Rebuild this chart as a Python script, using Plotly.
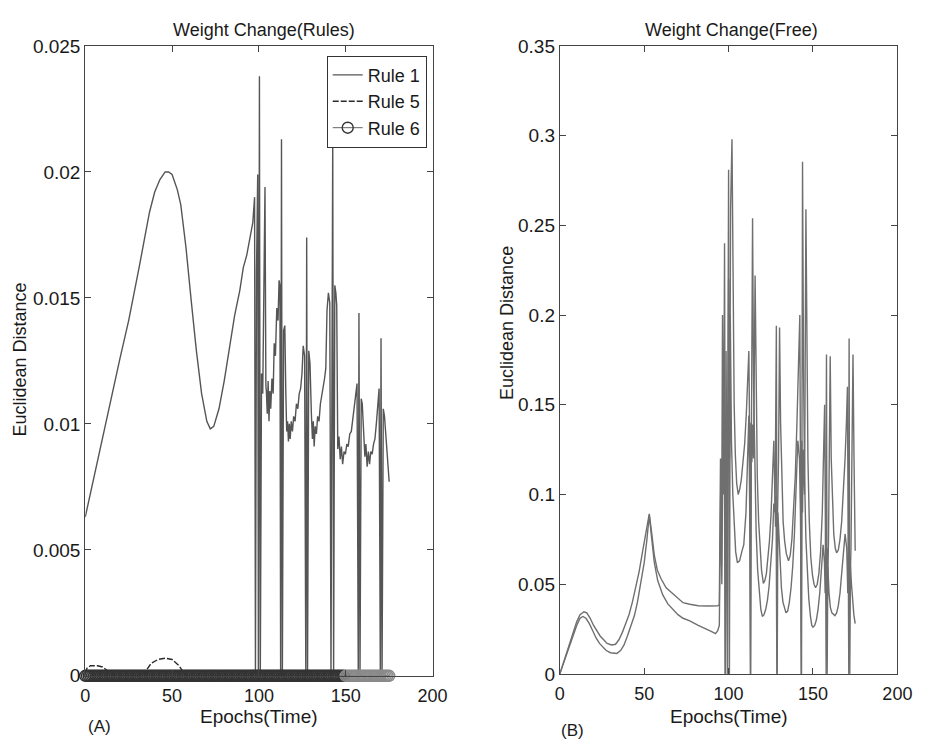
import plotly.graph_objects as go

# ---------------- Panel A: Weight Change (Rules) ----------------
rule1_points = [
    (0, 0.0063), (5, 0.0079), (10, 0.0095), (15, 0.0111), (20, 0.0126), (25, 0.0141),
    (28, 0.0151), (31, 0.0162), (34, 0.0173), (37, 0.0184), (40, 0.0192), (43, 0.0197),
    (46, 0.0200), (48, 0.0200), (50, 0.0199), (53, 0.0193), (55, 0.0187),
    (58, 0.0170), (61, 0.0149), (64, 0.0129), (67, 0.0112), (70, 0.0101), (72, 0.0098),
    (74, 0.0099), (77, 0.0106), (80, 0.0117), (83, 0.0130), (86, 0.0143), (89, 0.0153),
    (91, 0.0162), (93, 0.0167), (95, 0.0174), (96.5, 0.0180), (97.5, 0.0190), (98, 0.0),
    (98.6, 0.0160), (99.3, 0.0199), (99.7, 0.0), (100.3, 0.0238), (100.8, 0.0),
    (101.5, 0.0120), (102.2, 0.0112), (103.5, 0.0194), (104, 0.0115), (104.3, 0.0113),
    (104.8, 0.0104), (105.3, 0.0117), (105.8, 0.0101), (106.3, 0.0113), (106.8, 0.0106),
    (107.5, 0.0118), (108.2, 0.0112), (108.8, 0.0132), (109.5, 0.0127), (110.3, 0.0146),
    (111, 0.0141), (111.6, 0.0157), (112.1, 0.0155), (112.5, 0.0), (113, 0.0213),
    (113.5, 0.0), (114.2, 0.0137), (114.9, 0.0139), (115.5, 0.0112), (116, 0.0097),
    (116.5, 0.0101), (117, 0.0093), (117.5, 0.0100), (118, 0.0094), (118.6, 0.0101),
    (119.3, 0.0097), (120, 0.0103), (120.8, 0.0101), (121.6, 0.0108), (122.4, 0.0106),
    (123.2, 0.0112), (124, 0.0114), (124.8, 0.0120), (125.5, 0.0131), (126.3, 0.0127),
    (127, 0.0), (127.5, 0.0174), (128, 0.0), (128.7, 0.0129), (129.4, 0.0124),
    (130.2, 0.0104), (130.8, 0.0094), (131.3, 0.0101), (131.8, 0.0091), (132.4, 0.0099),
    (133.1, 0.0096), (133.8, 0.0103), (134.6, 0.0101), (135.4, 0.0108), (136.2, 0.0111),
    (137, 0.0114), (137.8, 0.0118), (138.5, 0.0122), (139.2, 0.0145), (140, 0.0152),
    (140.8, 0.0148), (141.5, 0.0), (142.5, 0.0215), (143, 0.0), (143.7, 0.0155),
    (144.3, 0.0152), (144.8, 0.0147), (145.4, 0.0090), (146.1, 0.0095), (146.8, 0.0086),
    (147.5, 0.0091), (148.2, 0.0084), (149, 0.0089), (149.8, 0.0088), (150.6, 0.0092),
    (151.4, 0.0091), (152.3, 0.0096), (153.2, 0.0097), (154, 0.0102), (154.8, 0.0108),
    (155.6, 0.0113), (156.5, 0.0116), (157.2, 0.0), (157.6, 0.0144), (158.2, 0.0),
    (158.9, 0.0110), (159.5, 0.0108), (160.3, 0.0095), (161, 0.0087), (161.6, 0.0092),
    (162.3, 0.0083), (163, 0.0089), (163.7, 0.0084), (164.4, 0.0089), (165.2, 0.0088),
    (166, 0.0092), (166.8, 0.0094), (167.6, 0.0100), (168.4, 0.0108), (169.2, 0.0114),
    (169.9, 0.0), (170.3, 0.0134), (170.9, 0.0), (171.6, 0.0106), (172.3, 0.0103),
    (173, 0.0096), (173.7, 0.0088), (174.4, 0.0080), (175, 0.0077),
]

rule5_points = [
    (0, 0.0001), (1, 0.0003), (3, 0.0004), (7, 0.0004), (10, 0.00035), (13, 0.0002),
    (16, 0.00005), (18, 0.0), (32, 0.0), (35, 0.0002), (38, 0.0005), (42, 0.00065),
    (46, 0.0007), (50, 0.00065), (54, 0.0004), (57, 0.0001), (59, 0.0), (175, 0.0),
]

rule6_epochs = list(range(176))
rule6_values = [0.0] * 176

# ---------------- Panel B: Weight Change (Free) ----------------
free_upper_points = [
    (0, 0.0), (2, 0.006), (4, 0.012), (6, 0.018), (8, 0.024), (10, 0.029), (12, 0.033),
    (14.3, 0.0346), (16, 0.034), (18, 0.031), (20, 0.027), (22, 0.024), (24, 0.021),
    (26, 0.019), (28, 0.017), (30.7, 0.0161), (33, 0.0165), (35, 0.019), (37, 0.023),
    (39, 0.028), (41, 0.033), (43, 0.040), (45, 0.048), (47, 0.057), (49, 0.068),
    (51, 0.079), (53, 0.0892), (54.5, 0.078), (56, 0.066), (57.8, 0.0578), (60, 0.053),
    (63, 0.048), (67, 0.0445), (70, 0.042), (73, 0.0397), (77, 0.0388), (82, 0.038),
    (88, 0.0378), (93.5, 0.0379), (94.5, 0.0385), (95.2, 0.12), (95.8, 0.06), (96.4, 0.20),
    (97, 0.10), (97.6, 0.24), (98.2, 0.0), (98.8, 0.15), (99.4, 0.0), (100, 0.22),
    (100.6, 0.12), (101.2, 0.26), (102, 0.298), (102.6, 0.20), (103.3, 0.15), (104, 0.122),
    (104.8, 0.106), (105.7, 0.100), (106.6, 0.103), (107.5, 0.108), (108.5, 0.117),
    (109.5, 0.128), (110.5, 0.145), (111.3, 0.165), (112, 0.18), (112.5, 0.13),
    (112.9, 0.0), (113.3, 0.14), (113.8, 0.118), (114.3, 0.139), (114.8, 0.12),
    (115.7, 0.222), (116.3, 0.15), (117, 0.11), (117.8, 0.085), (118.6, 0.07),
    (119.5, 0.058), (120.6, 0.0504), (121.5, 0.052), (122.4, 0.056), (123.3, 0.064),
    (124.2, 0.074), (125.1, 0.088), (126, 0.106), (126.8, 0.13), (127.4, 0.10),
    (127.8, 0.082), (128.0, 0.099), (128.2, 0.081), (128.6, 0.0), (129, 0.09),
    (129.6, 0.12), (130.2, 0.193), (130.8, 0.14), (131.5, 0.105), (132.3, 0.085),
    (133.2, 0.074), (134.2, 0.067), (135.5, 0.063), (136.5, 0.066), (137.5, 0.075),
    (138.5, 0.09), (139.5, 0.11), (140.5, 0.14), (141.5, 0.18), (142.2, 0.20),
    (142.6, 0.11), (143.0, 0.0), (143.4, 0.13), (143.8, 0.09), (144.2, 0.125),
    (145, 0.10), (145.8, 0.259), (146.4, 0.17), (147, 0.12), (147.8, 0.085),
    (148.7, 0.065), (149.7, 0.055), (150.6, 0.05), (151.5, 0.048), (152.5, 0.05),
    (153.5, 0.056), (154.5, 0.068), (155.5, 0.09), (156.3, 0.12), (156.9, 0.15),
    (157.4, 0.075), (157.8, 0.0), (158.3, 0.07), (158.7, 0.05), (159.2, 0.075),
    (160.2, 0.177), (160.8, 0.12), (161.5, 0.095), (162.3, 0.078), (163.2, 0.07),
    (164, 0.0675), (165, 0.069), (166, 0.075), (167, 0.085), (168, 0.10), (169, 0.12),
    (169.8, 0.14), (170.4, 0.16), (170.9, 0.07), (171.2, 0.0), (171.6, 0.065),
    (172, 0.05), (172.5, 0.07), (173.7, 0.178), (174.3, 0.12), (175, 0.0686),
]

free_lower_points = [
    (0, 0.0), (2, 0.0055), (4, 0.011), (6, 0.017), (8, 0.022), (10, 0.027), (12, 0.031),
    (13.7, 0.032), (15.5, 0.031), (17.5, 0.028), (19.5, 0.024), (21.5, 0.020),
    (23.5, 0.017), (25.5, 0.0148), (27.5, 0.013), (30, 0.0118), (33.8, 0.0114),
    (36, 0.013), (38, 0.016), (40, 0.021), (42, 0.026), (44.2, 0.0325), (46, 0.040),
    (48, 0.050), (50, 0.062), (51.5, 0.074), (53, 0.0885), (54.5, 0.075), (56, 0.062),
    (58, 0.052), (61, 0.044), (64, 0.039), (67.4, 0.0355), (70, 0.033), (73, 0.031),
    (77, 0.0295), (82, 0.027), (86.8, 0.0251), (90, 0.0235), (92.2, 0.0224),
    (93.5, 0.0239), (94.5, 0.027), (95.3, 0.10), (96, 0.05), (96.7, 0.14), (97.4, 0.171),
    (97.9, 0.0), (98.5, 0.18), (99.2, 0.06), (100, 0.281), (100.5, 0.0), (101, 0.20),
    (101.7, 0.13), (102.5, 0.10), (103.3, 0.082), (104.2, 0.068), (105.2, 0.062),
    (106.5, 0.063), (107.8, 0.068), (109, 0.072), (110.3, 0.09), (111.2, 0.115),
    (112, 0.144), (112.6, 0.08), (113.1, 0.0), (113.5, 0.13), (114.2, 0.254),
    (114.8, 0.16), (115.5, 0.11), (116.3, 0.08), (117.2, 0.058), (118.2, 0.044),
    (119.1, 0.036), (120, 0.032), (121, 0.033), (122, 0.036), (123, 0.041), (124, 0.049),
    (125, 0.06), (126, 0.075), (126.8, 0.095), (127.5, 0.09), (128.3, 0.194),
    (128.8, 0.0), (129.2, 0.09), (129.8, 0.075), (130.5, 0.06), (131.3, 0.048),
    (132.2, 0.04), (133.1, 0.036), (134, 0.034), (135, 0.035), (136, 0.04), (137, 0.048),
    (138, 0.06), (139, 0.078), (140, 0.10), (141, 0.13), (142, 0.12), (142.6, 0.09),
    (143.2, 0.0), (143.5, 0.12), (143.8, 0.2855), (144.4, 0.17), (145, 0.11),
    (145.8, 0.075), (146.6, 0.055), (147.5, 0.042), (148.5, 0.032), (149.3, 0.027),
    (150, 0.026), (151, 0.027), (152, 0.03), (153, 0.036), (154, 0.045), (155, 0.058),
    (156, 0.072), (156.8, 0.062), (157.2, 0.045), (157.5, 0.077), (158, 0.178),
    (158.4, 0.0), (158.8, 0.06), (159.5, 0.045), (160.3, 0.037), (161.2, 0.034),
    (162.1, 0.033), (163, 0.0325), (164, 0.034), (165, 0.038), (166, 0.045),
    (167, 0.055), (168, 0.065), (169, 0.078), (170, 0.07), (170.6, 0.045), (171.0, 0.068),
    (171.4, 0.187), (171.8, 0.0), (172.2, 0.06), (172.8, 0.05), (173.4, 0.04),
    (174.2, 0.033), (175, 0.028),
]

x_ticks = [0, 50, 100, 150, 200]
rules_y_ticks = [0, 0.005, 0.01, 0.015, 0.02, 0.025]
rules_y_labels = ["0", "0.005", "0.01", "0.015", "0.02", "0.025"]
free_y_ticks = [0, 0.05, 0.1, 0.15, 0.2, 0.25, 0.3, 0.35]
free_y_labels = ["0", "0.05", "0.1", "0.15", "0.2", "0.25", "0.3", "0.35"]


def unzip(points):
    return [p[0] for p in points], [p[1] for p in points]


FONT = "Liberation Sans, Arial, Helvetica, sans-serif"
TXT = "#1a1a1a"

fig = go.Figure()

x1, y1 = unzip(rule1_points)
fig.add_trace(go.Scatter(x=x1, y=y1, mode="lines", name="Rule 1",
                         line=dict(color="#555555", width=1.4),
                         xaxis="x", yaxis="y"))
x5, y5 = unzip(rule5_points)
fig.add_trace(go.Scatter(x=x5, y=y5, mode="lines", name="Rule 5",
                         line=dict(color="#2a2a2a", width=1.4, dash="6px,2px"),
                         xaxis="x", yaxis="y"))
marker_cols = ["#333333" if e < 150 else "#8a8a8a" for e in rule6_epochs]
fig.add_trace(go.Scatter(x=rule6_epochs, y=rule6_values, mode="lines+markers", name="Rule 6",
                         line=dict(color="#666666", width=1),
                         marker=dict(symbol="circle-open", size=11,
                                     color=marker_cols, line=dict(width=1.4, color=marker_cols)),
                         cliponaxis=False, xaxis="x", yaxis="y"))

xu, yu = unzip(free_upper_points)
fig.add_trace(go.Scatter(x=xu, y=yu, mode="lines", showlegend=False,
                         line=dict(color="#6f6f6f", width=1.4),
                         xaxis="x2", yaxis="y2"))
xl, yl = unzip(free_lower_points)
fig.add_trace(go.Scatter(x=xl, y=yl, mode="lines", showlegend=False,
                         line=dict(color="#6f6f6f", width=1.4),
                         xaxis="x2", yaxis="y2"))

W, H = 930, 750
def px(x):
    return x / W
def py(y):
    return (H - y) / H

axis_common = dict(showline=True, linecolor="#444444", linewidth=1, mirror="ticks",
                   ticks="inside", ticklen=6, tickcolor="#444444", showgrid=False,
                   zeroline=False)
yfont = dict(family=FONT, size=19, color=TXT)
xfont = dict(family=FONT, size=18, color=TXT)

fig.update_layout(
    width=W, height=H,
    margin=dict(l=0, r=0, t=0, b=0),
    paper_bgcolor="white", plot_bgcolor="white",
    font=dict(family=FONT, color=TXT),
    xaxis=dict(domain=[px(82), px(437)], range=[0, 200], tickvals=x_ticks,
               anchor="y", tickfont=xfont, ticklabelstandoff=4, **axis_common),
    yaxis=dict(domain=[py(685), py(37)], range=[0, 0.025], tickvals=rules_y_ticks,
               ticktext=rules_y_labels, anchor="x", tickfont=yfont, **axis_common),
    xaxis2=dict(domain=[px(567), px(912)], range=[0, 200], tickvals=x_ticks,
                anchor="y2", tickfont=xfont, ticklabelstandoff=4, **axis_common),
    yaxis2=dict(domain=[py(683), py(37)], range=[0, 0.35], tickvals=free_y_ticks,
                ticktext=free_y_labels, anchor="x2", tickfont=yfont, **axis_common),
    legend=dict(x=px(431), y=py(47), xanchor="right", yanchor="top",
                bgcolor="white", bordercolor="#333333", borderwidth=1,
                font=dict(family=FONT, size=18, color=TXT), tracegroupgap=0,
                itemwidth=30),
    showlegend=True,
)

annots = [
    dict(text="Weight Change(Rules)", x=px(265), y=py(21), size=18),
    dict(text="Weight Change(Free)", x=px(742), y=py(21), size=18),
    dict(text="Epochs(Time)", x=px(260), y=py(727), size=19),
    dict(text="Epochs(Time)", x=px(740), y=py(727), size=19),
    dict(text="(A)", x=px(97), y=py(737), size=17),
    dict(text="(B)", x=px(580), y=py(741), size=17),
]
for a in annots:
    fig.add_annotation(text=a["text"], x=a["x"], y=a["y"], xref="paper", yref="paper",
                       showarrow=False, xanchor="center", yanchor="middle",
                       font=dict(family=FONT, size=a["size"], color=TXT))

for xc, yc in [(15, 360), (513, 322)]:
    fig.add_annotation(text="Euclidean Distance", x=px(xc), y=py(yc), xref="paper",
                       yref="paper", showarrow=False, textangle=-90,
                       xanchor="center", yanchor="middle",
                       font=dict(family=FONT, size=18, color=TXT))

fig.write_html("out.html")
